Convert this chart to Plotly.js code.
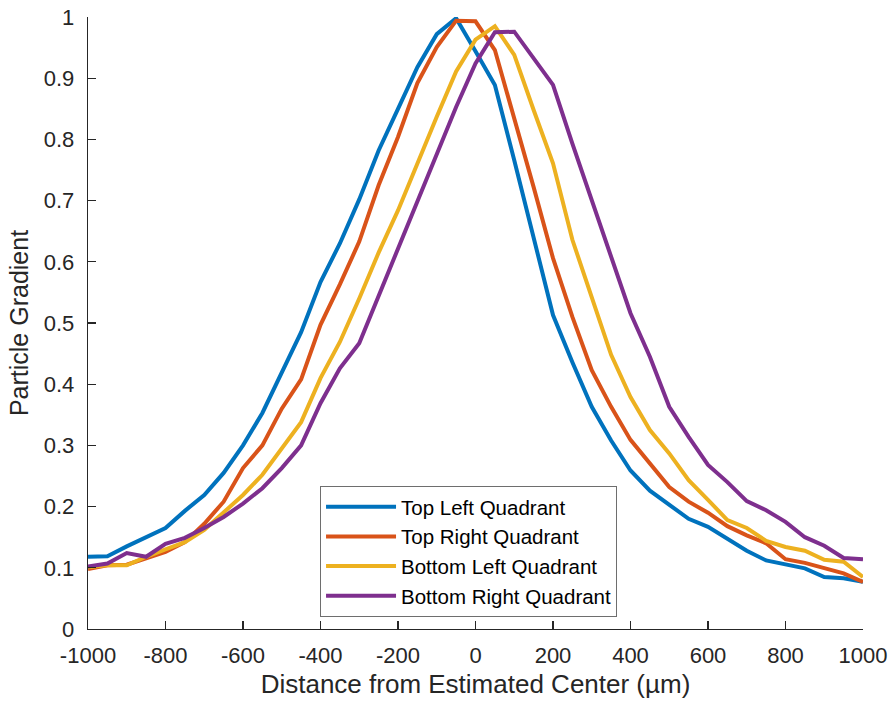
<!DOCTYPE html>
<html>
<head>
<meta charset="utf-8">
<script src="https://cdn.plot.ly/plotly-3.0.1.min.js"></script>
<style>html,body{margin:0;padding:0;background:#fff;}#chart{width:894px;height:706px;}</style>
</head>
<body>
<div id="chart"></div>
<script>
const distance = [-1000,-950,-900,-850,-800,-750,-700,-650,-600,-550,-500,-450,-400,-350,-300,-250,-200,-150,-100,-50,0,50,100,150,200,250,300,350,400,450,500,550,600,650,700,750,800,850,900,950,1000];

const topLeft = [0.118,0.119,0.135,0.150,0.165,0.193,0.219,0.255,0.300,0.353,0.420,0.485,0.567,0.630,0.702,0.782,0.850,0.918,0.972,0.998,0.944,0.889,0.766,0.640,0.513,0.436,0.363,0.308,0.259,0.226,0.203,0.180,0.167,0.147,0.128,0.112,0.105,0.099,0.085,0.083,0.077];

const topRight = [0.098,0.104,0.105,0.116,0.126,0.142,0.172,0.208,0.263,0.300,0.360,0.408,0.497,0.563,0.633,0.725,0.804,0.892,0.951,0.994,0.993,0.946,0.835,0.722,0.606,0.510,0.423,0.363,0.309,0.271,0.232,0.208,0.190,0.168,0.153,0.140,0.114,0.108,0.099,0.091,0.077];

const bottomLeft = [0.101,0.104,0.104,0.118,0.130,0.142,0.162,0.190,0.219,0.252,0.296,0.338,0.410,0.469,0.540,0.615,0.684,0.762,0.837,0.911,0.963,0.985,0.938,0.848,0.761,0.636,0.543,0.448,0.379,0.325,0.287,0.243,0.211,0.178,0.165,0.144,0.134,0.128,0.113,0.110,0.085];

const bottomRight = [0.102,0.107,0.124,0.118,0.139,0.149,0.165,0.183,0.205,0.230,0.263,0.300,0.369,0.426,0.467,0.545,0.622,0.700,0.777,0.853,0.924,0.975,0.976,0.932,0.889,0.793,0.700,0.605,0.516,0.445,0.363,0.314,0.268,0.240,0.209,0.194,0.175,0.150,0.136,0.116,0.114];

const seriesNames = ["Top Left Quadrant","Top Right Quadrant","Bottom Left Quadrant","Bottom Right Quadrant"];
const seriesColors = ["#0072BD","#D95319","#EDB120","#7E2F8E"];
const seriesValues = [topLeft, topRight, bottomLeft, bottomRight];

const xTicks = [-1000,-800,-600,-400,-200,0,200,400,600,800,1000];
const yTicks = [0,0.1,0.2,0.3,0.4,0.5,0.6,0.7,0.8,0.9,1];
const yTickText = ["0","0.1","0.2","0.3","0.4","0.5","0.6","0.7","0.8","0.9","1"];

const traces = seriesValues.map((vals, i) => ({
  x: distance, y: vals, type: "scatter", mode: "lines",
  name: seriesNames[i],
  line: {color: seriesColors[i], width: 4}
}));

const fontFam = "Liberation Sans, Arial, sans-serif";
const txt = "#262626";

const layout = {
  width: 894, height: 706,
  margin: {l: 88, r: 31, t: 17, b: 77, pad: 0},
  paper_bgcolor: "#fff", plot_bgcolor: "#fff",
  font: {family: fontFam, color: txt, size: 22},
  showlegend: true,
  legend: {
    x: 0.2994, y: 0.2337, xanchor: "left", yanchor: "top",
    bgcolor: "#fff", bordercolor: "#6e6e6e", borderwidth: 1,
    font: {family: fontFam, size: 20.5, color: "#000"},
    itemwidth: 70, tracegroupgap: 0
  },
  xaxis: {
    range: [-1000, 1000], tickvals: xTicks, ticktext: xTicks.map(String),
    ticks: "inside", ticklen: 8, tickwidth: 1.3, tickcolor: txt,
    showline: true, linecolor: txt, linewidth: 1.3, mirror: false,
    showgrid: false, zeroline: false,
    tickfont: {size: 22, color: txt}, ticklabelstandoff: 6,
    title: {text: "Distance from Estimated Center (µm)", font: {size: 26, color: txt}, standoff: 8},
    automargin: false
  },
  yaxis: {
    range: [0, 1], tickvals: yTicks, ticktext: yTickText,
    ticks: "inside", ticklen: 8, tickwidth: 1.3, tickcolor: txt,
    showline: true, linecolor: txt, linewidth: 1.3, mirror: false,
    showgrid: false, zeroline: false,
    tickfont: {size: 22, color: txt}, ticklabelstandoff: 8,
    title: {text: "Particle Gradient", font: {size: 25, color: txt}, standoff: 8},
    automargin: false
  }
};

Plotly.newPlot("chart", traces, layout, {displayModeBar: false, staticPlot: true});
</script>
</body>
</html>
